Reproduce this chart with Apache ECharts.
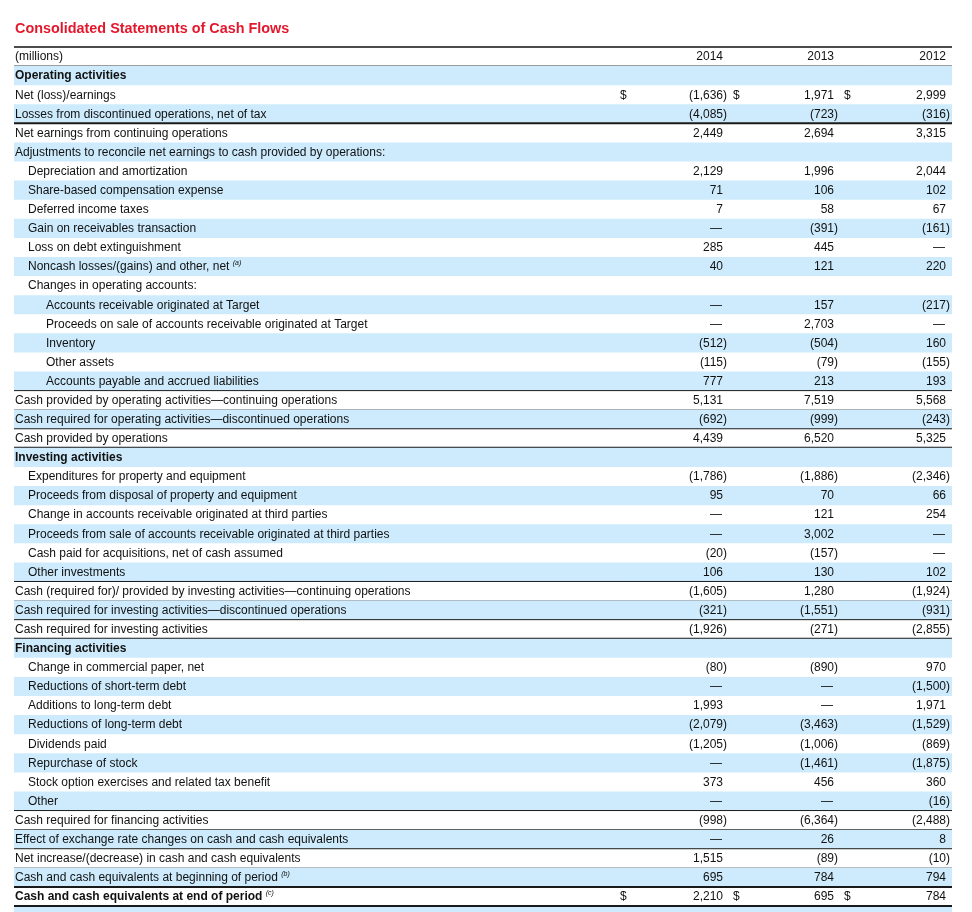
<!DOCTYPE html>
<html><head><meta charset="utf-8">
<script src="https://cdn.jsdelivr.net/npm/echarts@6/dist/echarts.min.js"></script>
<style>html,body{margin:0;padding:0;background:#fff}#c{width:972px;height:912px}</style>
</head><body><div id="c"></div><script>
const title = 'Consolidated Statements of Cash Flows';
const years = ['2014', '2013', '2012'];
const categories = [
  '(millions)',
  'Operating activities',
  'Net (loss)/earnings',
  'Losses from discontinued operations, net of tax',
  'Net earnings from continuing operations',
  'Adjustments to reconcile net earnings to cash provided by operations:',
  'Depreciation and amortization',
  'Share-based compensation expense',
  'Deferred income taxes',
  'Gain on receivables transaction',
  'Loss on debt extinguishment',
  'Noncash losses/(gains) and other, net',
  'Changes in operating accounts:',
  'Accounts receivable originated at Target',
  'Proceeds on sale of accounts receivable originated at Target',
  'Inventory',
  'Other assets',
  'Accounts payable and accrued liabilities',
  'Cash provided by operating activities\u2014continuing operations',
  'Cash required for operating activities\u2014discontinued operations',
  'Cash provided by operations',
  'Investing activities',
  'Expenditures for property and equipment',
  'Proceeds from disposal of property and equipment',
  'Change in accounts receivable originated at third parties',
  'Proceeds from sale of accounts receivable originated at third parties',
  'Cash paid for acquisitions, net of cash assumed',
  'Other investments',
  'Cash (required for)/ provided by investing activities\u2014continuing operations',
  'Cash required for investing activities\u2014discontinued operations',
  'Cash required for investing activities',
  'Financing activities',
  'Change in commercial paper, net',
  'Reductions of short-term debt',
  'Additions to long-term debt',
  'Reductions of long-term debt',
  'Dividends paid',
  'Repurchase of stock',
  'Stock option exercises and related tax benefit',
  'Other',
  'Cash required for financing activities',
  'Effect of exchange rate changes on cash and cash equivalents',
  'Net increase/(decrease) in cash and cash equivalents',
  'Cash and cash equivalents at beginning of period',
  'Cash and cash equivalents at end of period'
];
const indentLevel = [0,0,0,0,0,0,1,1,1,1,1,1,1,2,2,2,2,2,0,0,0,0,1,1,1,1,1,1,0,0,0,0,1,1,1,1,1,1,1,1,0,0,0,0,0];
const boldRows = [1, 21, 31, 44];
const dollarRows = [2, 44];
const footnotes = { 11: '(a)', 43: '(b)', 44: '(c)' };
// '' = blank cell, null = em dash
const v2014 = ['', '', -1636, -4085, 2449, '', 2129, 71, 7, null, 285, 40, '', null, null, -512, -115, 777, 5131, -692, 4439, '', -1786, 95, null, null, -20, 106, -1605, -321, -1926, '', -80, null, 1993, -2079, -1205, null, 373, null, -998, null, 1515, 695, 2210];
const v2013 = ['', '', 1971, -723, 2694, '', 1996, 106, 58, -391, 445, 121, '', 157, 2703, -504, -79, 213, 7519, -999, 6520, '', -1886, 70, 121, 3002, -157, 130, 1280, -1551, -271, '', -890, null, null, -3463, -1006, -1461, 456, null, -6364, 26, -89, 784, 695];
const v2012 = ['', '', 2999, -316, 3315, '', 2044, 102, 67, -161, null, 220, '', -217, null, 160, -155, 193, 5568, -243, 5325, '', -2346, 66, 254, null, null, 102, -1924, -931, -2855, '', 970, -1500, 1971, -1529, -869, -1875, 360, -16, -2488, 8, -10, 794, 784];
// rule drawn below row: 1 thin dark, 2 thick dark, 3 light
const ruleBelow = { 0: 1, 3: 2, 17: 1, 18: 3, 19: 1, 20: 2, 27: 1, 28: 3, 29: 1, 30: 2, 39: 1, 40: 1, 41: 1, 42: 3, 43: 2, 44: 2 };

const FONT = '"Liberation Sans", Arial, sans-serif';
const BLUE = '#cdebfc';
const TEXT = '#111';
const columns = [v2014, v2013, v2012];
const valueRight = [709, 820, 932];   // axis units from grid left
const dollarLeft = [606, 719, 830];
const indentPx = [1, 14, 32];

function fmt(v) {
  const s = Math.abs(v).toLocaleString('en-US');
  return v < 0 ? '(' + s + ')' : s;
}

const chart = echarts.init(document.getElementById('c'), null, { renderer: 'canvas' });
chart.setOption({
  animation: false,
  backgroundColor: '#fff',
  title: {
    text: title, left: 15, top: 22, padding: 0,
    textStyle: { color: '#e3182d', fontSize: 14.4, fontWeight: 'bold', fontFamily: FONT }
  },
  grid: { left: 14, right: 20, top: 47, bottom: 6, containLabel: false },
  xAxis: { type: 'value', min: 0, max: 938, show: false },
  yAxis: { type: 'category', data: categories, inverse: true, show: false },
  series: [{
    type: 'custom',
    clip: false,
    data: categories.map((c, i) => [0, i]),
    encode: { x: 0, y: 1 },
    renderItem: function (params, api) {
      const i = api.value(1);
      const cy = api.coord([0, i])[1];
      const h = api.size([0, 1])[1];
      const x0 = api.coord([0, i])[0];
      const x1 = api.coord([938, i])[0];
      const top = cy - h / 2;
      const ch = [];
      if (i % 2 === 1) {
        ch.push({ type: 'rect', shape: { x: x0, y: top, width: x1 - x0, height: h }, style: { fill: BLUE } });
      }
      if (i === categories.length - 1) {
        ch.push({ type: 'rect', shape: { x: x0, y: top + h + 1, width: x1 - x0, height: h }, style: { fill: BLUE } });
      }
      const bold = boldRows.indexOf(i) >= 0;
      const fw = bold ? 'bold' : 'normal';
      const ty = cy + 0.5;
      const lx = api.coord([indentPx[indentLevel[i]], i])[0];
      if (footnotes[i]) {
        ch.push({ type: 'text', style: {
          text: '{m|' + categories[i] + '} {s|' + footnotes[i] + '}',
          x: lx, y: ty, align: 'left', verticalAlign: 'middle',
          rich: {
            m: { fontSize: 12, fontWeight: fw, fontFamily: FONT, fill: TEXT, lineHeight: 14, verticalAlign: 'middle' },
            s: { fontSize: 7, fontStyle: 'italic', fontFamily: FONT, fill: TEXT, lineHeight: 14, verticalAlign: 'top' }
          }
        }});
      } else {
        ch.push({ type: 'text', style: { text: categories[i], x: lx, y: ty, align: 'left', verticalAlign: 'middle',
          fontSize: 12, fontWeight: fw, fontFamily: FONT, fill: TEXT } });
      }
      if (i === 0) {
        years.forEach((yr, k) => {
          ch.push({ type: 'text', style: { text: yr, x: api.coord([valueRight[k], i])[0], y: ty, align: 'right', verticalAlign: 'middle',
            fontSize: 12, fontFamily: FONT, fill: TEXT } });
        });
      }
      columns.forEach((col, k) => {
        const v = col[i];
        if (v === '') return;
        let txt, xr = api.coord([valueRight[k], i])[0];
        if (v === null) { txt = '\u2014'; xr -= 1; }
        else { txt = fmt(v); if (v < 0) xr += 4; }
        ch.push({ type: 'text', style: { text: txt, x: xr, y: ty, align: 'right', verticalAlign: 'middle',
          fontSize: 12, fontFamily: FONT, fill: TEXT } });
        if (dollarRows.indexOf(i) >= 0) {
          ch.push({ type: 'text', style: { text: '$', x: api.coord([dollarLeft[k], i])[0], y: ty, align: 'left', verticalAlign: 'middle',
            fontSize: 12, fontFamily: FONT, fill: TEXT } });
        }
      });
      if (i === 0) {
        ch.push({ type: 'line', shape: { x1: x0, y1: top, x2: x1, y2: top }, style: { stroke: '#111', lineWidth: 1.5 } });
      }
      const r = ruleBelow[i];
      if (r) {
        const lw = r === 2 ? 2 : 1;
        const col = r === 3 ? '#8a8a8a' : '#1a1a1a';
        ch.push({ type: 'line', shape: { x1: x0, y1: top + h, x2: x1, y2: top + h }, style: { stroke: col, lineWidth: lw } });
      }
      return { type: 'group', children: ch };
    }
  }]
});
</script></body></html>
